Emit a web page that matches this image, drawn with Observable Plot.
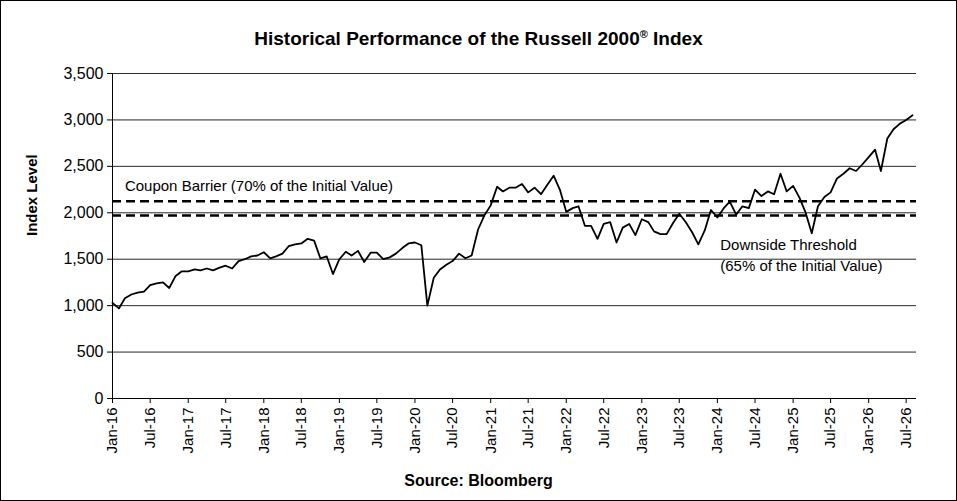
<!DOCTYPE html>
<html><head><meta charset="utf-8">
<script src="https://cdn.jsdelivr.net/npm/d3@7"></script>
<script src="https://cdn.jsdelivr.net/npm/@observablehq/plot@0.6"></script>
<style>
body{margin:0;background:#fff;font-family:Arial,"Liberation Sans",sans-serif;}
#wrap{width:955px;height:499px;border:1px solid #000;position:relative;overflow:hidden}
#title{height:50px;line-height:66px;text-align:center;font-weight:bold;font-size:19px}
#cap{position:absolute;top:471px;width:100%;text-align:center;font-weight:bold;font-size:16px}
</style></head><body>
<div id="wrap"><div id="title">Historical Performance of the Russell 2000<sup style="font-size:11px">®</sup> Index</div><div id="chart"></div><div id="cap">Source: Bloomberg</div></div>
<script>
const startMonth = "2016-01";
const values = [
1030,970,1080,1120,1140,1150,1220,1240,1250,1190,1320,1370,
1370,1390,1380,1400,1380,1410,1430,1400,1480,1500,1530,1540,
1575,1510,1530,1560,1640,1660,1670,1720,1700,1510,1530,1340,
1500,1580,1540,1590,1470,1570,1570,1500,1520,1560,1620,1670,
1680,1650,1000,1300,1390,1440,1480,1560,1510,1540,1820,1970,
2080,2280,2230,2270,2270,2310,2220,2270,2200,2300,2400,2250,
2010,2050,2070,1860,1860,1720,1880,1900,1680,1840,1880,1760,
1930,1900,1800,1770,1770,1890,1990,1900,1790,1660,1810,2030,
1950,2050,2120,1980,2070,2050,2250,2180,2230,2200,2420,2230,
2290,2160,2010,1780,2070,2170,2220,2370,2420,2480,2450,2520,
2600,2680,2450,2800,2900,2960,3000,3050];
const barrier = 2123, threshold = 1971;
const yTicks = [0,500,1000,1500,2000,2500,3000,3500];
const data = values.map((v,i)=>({date:d3.utcMonth.offset(new Date(startMonth+"-01"),i), v}));
const xTicks = d3.utcMonth.every(6).range(new Date("2016-01-01"), new Date("2026-08-01"));
const fmt = d3.utcFormat("%b-%y");
const plot = Plot.plot({
  width:955, height:420, marginLeft:111, marginRight:40, marginTop:22, marginBottom:73,
  style:{fontFamily:"Arial, 'Liberation Sans', sans-serif", fontSize:"16px", color:"#000"},
  x:{type:"utc", domain:[new Date("2016-01-01"), new Date("2026-08-20")], ticks:xTicks, tickFormat:fmt, tickRotate:-90, label:null},
  y:{domain:[0,3500], ticks:yTicks, tickFormat:d3.format(","), label:null, grid:true},
  marks:[
    Plot.gridY(yTicks,{stroke:"#000", strokeOpacity:1, strokeWidth:0.8}),
    Plot.ruleX([new Date("2016-01-01")]),
    Plot.ruleY([0]),
    Plot.axisX({ticks:xTicks, tickFormat:fmt, tickRotate:-90, label:null, tickSize:5, fontSize:15}),
    Plot.axisY({ticks:yTicks, tickFormat:d3.format(","), label:null, tickSize:5, fontSize:16}),
    Plot.ruleY([barrier, threshold],{stroke:"#000", strokeWidth:2.5, strokeDasharray:"9,5"}),
    Plot.lineY(data,{x:"date", y:"v", stroke:"#000", strokeWidth:1.8}),
    Plot.text(["Coupon Barrier (70% of the Initial Value)"],{x:new Date("2016-03-01"), y:2290, text:d=>d, textAnchor:"start", fontSize:15}),
    Plot.text(["Downside Threshold"],{x:new Date("2024-01-15"), y:1650, text:d=>d, textAnchor:"start", fontSize:15}),
    Plot.text(["(65% of the Initial Value)"],{x:new Date("2024-01-15"), y:1430, text:d=>d, textAnchor:"start", fontSize:15}),
    Plot.text(["Index Level"],{frameAnchor:"left", dx:-80, rotate:-90, text:d=>d, fontWeight:"bold", fontSize:15})
  ]
});
document.getElementById("chart").appendChild(plot);
</script></body></html>
